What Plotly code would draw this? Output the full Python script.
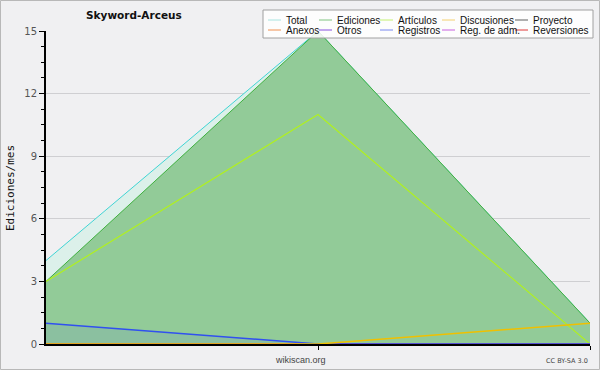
import plotly.graph_objects as go

# ---- data ----
months = [0, 1, 2]
series_names = ["Total", "Ediciones", "Artículos", "Discusiones", "Proyecto",
                "Anexos", "Otros", "Registros", "Reg. de adm.", "Reversiones"]
total = [4, 15, 1]
ediciones = [3, 15, 1]
articulos = [3, 11, 0]
discusiones = [0, 0, 1]
proyecto = [0, 0, 0]
anexos = [0, 0, 0]
otros = [0, 0, 0]
registros = [1, 0, 0]
reg_adm = [0, 0, 0]
reversiones = [0, 0, 0]
y_ticks = [0, 3, 6, 9, 12, 15]

legend_colors = ["#a8e4e0", "#80c480", "#c4f070", "#f4d070", "#606060",
                 "#f09050", "#8850e0", "#7888f0", "#c860e0", "#e03838"]

W, H = 600, 370
L, R, T, B = 46, 10, 31, 26
PW, PH = W - L - R, H - T - B

def px(x):
    return (x - L) / PW

def py(y):
    return (H - B - y) / PH

fig = go.Figure()

fig.add_trace(go.Scatter(x=months, y=total, mode="lines", name="Total",
                         line=dict(color="#40d4d4", width=1),
                         fill="tozeroy", fillcolor="#dcf0ea"))
fig.add_trace(go.Scatter(x=months, y=ediciones, mode="lines", name="Ediciones",
                         line=dict(color="#40b040", width=1),
                         fill="tozeroy", fillcolor="#92cb98"))
fig.add_trace(go.Scatter(x=months, y=articulos, mode="lines", name="Artículos",
                         line=dict(color="#b0f020", width=1.2)))
for name, vals, col in [("Proyecto", proyecto, "#606060"), ("Anexos", anexos, "#f09050"),
                        ("Otros", otros, "#8850e0"), ("Reg. de adm.", reg_adm, "#c860e0"),
                        ("Reversiones", reversiones, "#e03838")]:
    fig.add_trace(go.Scatter(x=months, y=vals, mode="lines", name=name,
                             line=dict(color=col, width=1)))
fig.add_trace(go.Scatter(x=months, y=registros, mode="lines", name="Registros",
                         line=dict(color="#3050f0", width=1.5),
                         fill="tozeroy", fillcolor="rgba(80,100,240,0.10)"))
fig.add_trace(go.Scatter(x=months, y=discusiones, mode="lines", name="Discusiones",
                         line=dict(color="#f0c000", width=1.5)))

shapes = []
annotations = []

# legend box
shapes.append(dict(type="rect", xref="paper", yref="paper",
                   x0=px(263), x1=px(593), y0=py(38), y1=py(10),
                   fillcolor="rgba(255,255,255,0.85)",
                   line=dict(color="#a0a0a0", width=1), layer="above"))
col_x = [268, 319, 380, 442, 515]
row_y = [20, 30]
for i, name in enumerate(series_names):
    r, c = divmod(i, 5)
    x0 = col_x[c]
    yy = row_y[r]
    shapes.append(dict(type="line", xref="paper", yref="paper",
                       x0=px(x0), x1=px(x0 + 13), y0=py(yy), y1=py(yy),
                       line=dict(color=legend_colors[i], width=1), layer="above"))
    annotations.append(dict(text=name, xref="paper", yref="paper",
                            x=px(x0 + 16), y=py(yy), xanchor="left", yanchor="middle",
                            showarrow=False,
                            font=dict(family="Liberation Sans", size=10, color="#111")))

# outer border
shapes.append(dict(type="rect", xref="paper", yref="paper",
                   x0=px(0.5), x1=px(W - 0.5), y0=py(H - 0.5), y1=py(0.5),
                   line=dict(color="#b8b8b8", width=1), layer="below"))

annotations.append(dict(text="<b>Skyword-Arceus</b>", xref="paper", yref="paper",
                        x=px(134), y=py(15), xanchor="center", yanchor="middle",
                        showarrow=False,
                        font=dict(family="DejaVu Sans", size=10.5, color="#111")))
annotations.append(dict(text="wikiscan.org", xref="paper", yref="paper",
                        x=px(300), y=py(360), xanchor="center", yanchor="middle",
                        showarrow=False,
                        font=dict(family="Liberation Sans", size=9, color="#444")))
annotations.append(dict(text="CC BY-SA 3.0", xref="paper", yref="paper",
                        x=px(590), y=py(361), xanchor="right", yanchor="middle",
                        showarrow=False,
                        font=dict(family="DejaVu Sans", size=6.5, color="#444")))
annotations.append(dict(text="Ediciones/mes", xref="paper", yref="paper",
                        x=px(10), y=py(188), xanchor="center", yanchor="middle",
                        textangle=-90, showarrow=False,
                        font=dict(family="DejaVu Sans Mono", size=11, color="#111")))

fig.update_layout(
    width=W, height=H,
    margin=dict(l=L, r=R, t=T, b=B, autoexpand=False),
    paper_bgcolor="#f0f0f2", plot_bgcolor="#f0f0f2",
    showlegend=False,
    shapes=shapes, annotations=annotations,
    xaxis=dict(range=[0, 2], tickvals=[1, 2], ticktext=["", ""],
               ticks="outside", ticklen=4, tickcolor="#000", automargin=False,
               showgrid=False, zeroline=False,
               showline=True, linecolor="#000", linewidth=2, fixedrange=True),
    yaxis=dict(range=[0, 15], tickvals=y_ticks, ticks="outside", ticklen=5,
               tickcolor="#000", automargin=False,
               minor=dict(dtick=0.75, ticks="outside", ticklen=3, tickcolor="#000",
                          showgrid=False),
               showgrid=True, gridcolor="#cfcfd2", gridwidth=1, zeroline=False,
               showline=True, linecolor="#000", linewidth=2,
               tickfont=dict(family="DejaVu Sans", size=10, color="#555"),
               fixedrange=True),
)

fig.write_html("out.html", config={"displayModeBar": False},
               post_script="document.body.style.margin='0';document.body.style.padding='0';")
